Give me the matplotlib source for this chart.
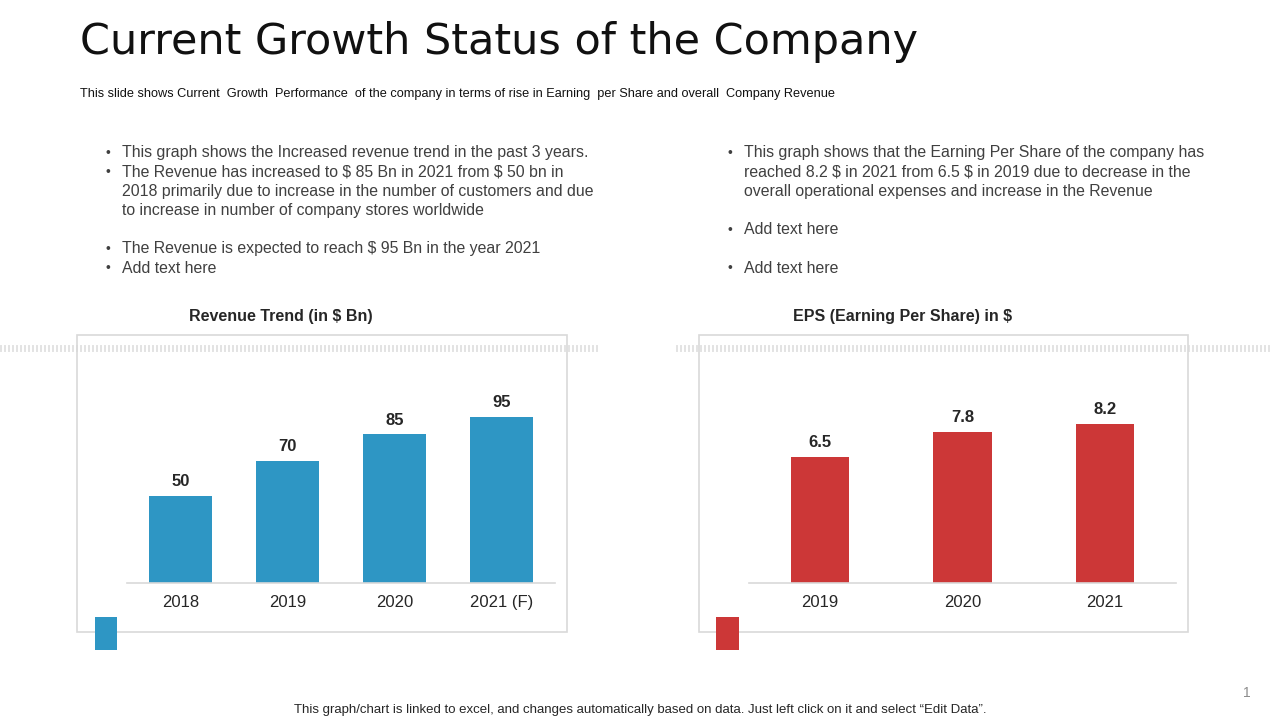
import matplotlib
matplotlib.use("Agg")
import matplotlib.pyplot as plt
from matplotlib.patches import Rectangle
from matplotlib.lines import Line2D

# ---- data ----
rev_years = ["2018", "2019", "2020", "2021 (F)"]
rev_values = [50, 70, 85, 95]
eps_years = ["2019", "2020", "2021"]
eps_values = [6.5, 7.8, 8.2]

title = "Current Growth Status of the Company"
subtitle = ("This slide shows Current  Growth  Performance  of the company in terms of rise in Earning  per Share and overall  Company Revenue")
left_bullets = [
    ("\u2022", "This graph shows the Increased revenue trend in the past 3 years."),
    ("\u2022", "The Revenue has increased to $ 85 Bn in 2021 from $ 50 bn in"),
    ("", "2018 primarily due to increase in the number of customers and due"),
    ("", "to increase in number of company stores worldwide"),
    ("", ""),
    ("\u2022", "The Revenue is expected to reach $ 95 Bn in the year 2021"),
    ("\u2022", "Add text here"),
]
right_bullets = [
    ("\u2022", "This graph shows that the Earning Per Share of the company has"),
    ("", "reached 8.2 $ in 2021 from 6.5 $ in 2019 due to decrease in the"),
    ("", "overall operational expenses and increase in the Revenue"),
    ("", ""),
    ("\u2022", "Add text here"),
    ("", ""),
    ("\u2022", "Add text here"),
]
rev_title = "Revenue Trend (in $ Bn)"
eps_title = "EPS (Earning Per Share) in $"
footer = "This graph/chart is linked to excel, and changes automatically based on data. Just left click on it and select \u201cEdit Data\u201d."

BLUE = "#2E96C4"
RED = "#CC3737"
GRAY_LINE = "#D9D9D9"
TXT = "#404040"

W, H = 1280, 720
plt.rcParams["lines.scale_dashes"] = False
plt.rcParams["text.parse_math"] = False
fig = plt.figure(figsize=(12.8, 7.2), dpi=100)
fig.patch.set_facecolor("white")

def fx(x):
    return x / W

def fy(y):
    return 1 - y / H

BODY = "Liberation Sans"

# Title and subtitle
fig.text(fx(80), fy(42), title, fontsize=31, family="DejaVu Sans", color="#111111", va="center", ha="left")
fig.text(fx(80), fy(93.5), subtitle, fontsize=9.2, family=BODY, color="#111111", va="center", ha="left")

# Bullets
line_h = 19.2
for i, (b, t) in enumerate(left_bullets):
    y = 153 + i * line_h
    if b:
        fig.text(fx(105), fy(y), b, fontsize=10, family=BODY, color=TXT, va="center", ha="left")
    fig.text(fx(122), fy(y), t, fontsize=11.45, family=BODY, color=TXT, va="center", ha="left")
for i, (b, t) in enumerate(right_bullets):
    y = 153 + i * line_h
    if b:
        fig.text(fx(727), fy(y), b, fontsize=10, family=BODY, color=TXT, va="center", ha="left")
    fig.text(fx(744), fy(y), t, fontsize=11.45, family=BODY, color=TXT, va="center", ha="left")

# Chart titles
fig.text(fx(281), fy(317), rev_title, fontsize=11.5, family=BODY, weight="bold", color="#262626", ha="center", va="center")
fig.text(fx(903), fy(317), eps_title, fontsize=11.5, family=BODY, weight="bold", color="#262626", ha="center", va="center")

# Boxes
for (x0, x1) in [(77, 567), (699, 1188)]:
    fig.patches.append(Rectangle((fx(x0), fy(632)), fx(x1 - x0), (632 - 335) / H,
                                 transform=fig.transFigure, fill=False,
                                 edgecolor=GRAY_LINE, linewidth=1.2, zorder=1))

# Dotted tick bands
for (x0, x1) in [(0, 598), (676, 1270)]:
    ln = Line2D([fx(x0), fx(x1)], [fy(348), fy(348)], transform=fig.transFigure,
                color="#C8C8C8", linewidth=5.0, dashes=(0.72, 2.16), zorder=0.5)
    fig.lines.append(ln)

# Small squares
fig.patches.append(Rectangle((fx(95), fy(650)), fx(22), 33 / H, transform=fig.transFigure,
                             facecolor=BLUE, edgecolor="none"))
fig.patches.append(Rectangle((fx(716), fy(650)), fx(23), 33 / H, transform=fig.transFigure,
                             facecolor=RED, edgecolor="none"))

def bar_axes(x0, x1, base, top, cats, vals, color, width, ymax, fmt):
    ax = fig.add_axes([fx(x0), fy(base), fx(x1 - x0), (base - top) / H])
    ax.set_facecolor("none")
    xs = list(range(len(cats)))
    ax.bar(xs, vals, width=width, color=color, zorder=2)
    ax.set_xlim(-0.5, len(cats) - 0.5)
    ax.set_ylim(0, ymax)
    for s in ["top", "right", "left"]:
        ax.spines[s].set_visible(False)
    ax.spines["bottom"].set_color(GRAY_LINE)
    ax.spines["bottom"].set_linewidth(1.2)
    ax.set_yticks([])
    ax.set_xticks(xs)
    ax.set_xticklabels(cats, fontsize=12, family=BODY, color="#262626")
    ax.tick_params(axis="x", length=0, pad=8.8)
    for x, v in zip(xs, vals):
        ax.annotate(fmt(v), (x, v), xytext=(0, 4.8), textcoords="offset points",
                    ha="center", va="bottom", fontsize=12, family=BODY, weight="bold", color="#262626")
    return ax

bar_axes(127, 555, 583, 373, rev_years, rev_values, BLUE, 0.58, 210 / 1.75, lambda v: f"{v:g}")
bar_axes(749, 1176, 583, 373, eps_years, eps_values, RED, 0.41, 210 / 19.4, lambda v: f"{v:.1f}")

# Footer & page number
fig.text(fx(640), fy(710.5), footer, fontsize=9.5, family=BODY, color="#262626", ha="center", va="center")
fig.text(fx(1247), fy(693), "1", fontsize=10, family=BODY, color="#8C8C8C", ha="center", va="center")

fig.savefig("out.png", dpi=100, facecolor="white")
